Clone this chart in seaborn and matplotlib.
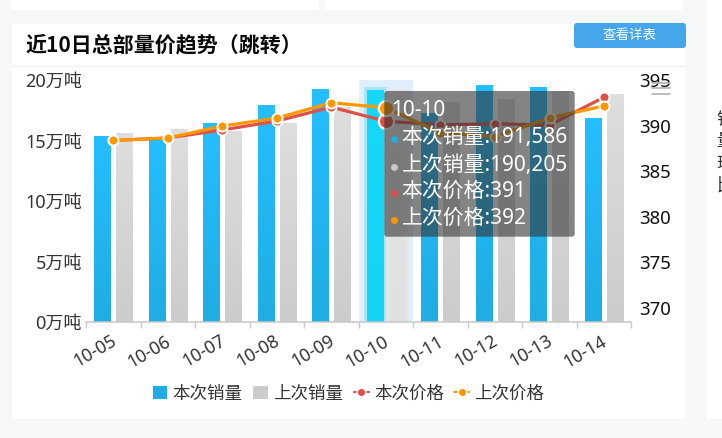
import numpy as np
import pandas as pd
import matplotlib
matplotlib.use('Agg')
import matplotlib.pyplot as plt
import seaborn as sns
from matplotlib.colors import to_rgb
from matplotlib.lines import Line2D
from matplotlib.patches import FancyBboxPatch, Patch, Rectangle
from matplotlib.transforms import Affine2D

# datos
fechas = ['10-05', '10-06', '10-07', '10-08', '10-09', '10-10', '10-11', '10-12', '10-13', '10-14']
ventas_actual = [15.29, 15.27, 16.39, 17.93, 19.20, 19.1586, 17.27, 19.53, 19.36, 16.83]
ventas_previo = [15.54, 15.89, 15.75, 16.39, 17.70, 19.0205, 18.18, 18.37, 19.03, 18.81]
precio_actual = [388.39, 388.66, 389.54, 390.52, 392.05, 390.50, 390.11, 390.22, 390.08, 393.14]
precio_previo = [388.39, 388.66, 389.97, 390.85, 392.54, 391.97, 389.24, 388.80, 390.85, 392.19]
ticks_ventas = [0, 5, 10, 15, 20]
ticks_precio = [370, 375, 380, 385, 390, 395]
nombres = ['本次销量', '上次销量', '本次价格', '上次价格']
tooltip_titulo = '10-10'
tooltip_textos = ['本次销量:191,586', '上次销量:190,205', '本次价格:391', '上次价格:392']
idx_activo = fechas.index(tooltip_titulo)

AZUL = '#1FADE3'
GRIS = '#CCCCCC'
ROJO = '#DF5048'
NARANJA = '#FF9800'

sns.set_theme(style='white')
# Noto Sans para los digitos, que son algo mas anchos
plt.rcParams['font.family'] = ['Noto Sans', 'Noto Sans CJK SC', 'DejaVu Sans']

fig = plt.figure(figsize=(7.22, 4.38), dpi=100, facecolor='#F6F7F9')
px = Affine2D().scale(1, -1).translate(0, 438)  # coordenadas en pixeles desde arriba


def caja(x0, y0, x1, y1, color, z=-5, radio=0, alpha=1):
    fig.add_artist(FancyBboxPatch((x0, y0), x1 - x0, y1 - y0, boxstyle=f'round,pad=0,rounding_size={radio}',
                                  fc=color, ec='none', alpha=alpha, transform=px, zorder=z))


# tarjetas del fondo
caja(11, -5, 319, 10, 'white')
caja(325, -5, 682, 10, 'white')
caja(12, 24, 685.3, 419, 'white')
caja(706, -5, 730, 419, 'white')
fig.add_artist(Line2D([12, 685], [65.5, 65.5], color='#F0F1F3', lw=1, transform=px, zorder=-4))

ax = fig.add_axes([86 / 722, (438 - 322.3) / 438, 545.3 / 722, 242 / 438])
ax.patch.set_visible(False)

# barras
df = pd.DataFrame({'fecha': fechas * 2,
                   'ventas': ventas_actual + ventas_previo,
                   'serie': [nombres[0]] * 10 + [nombres[1]] * 10})
sns.barplot(data=df, x='fecha', y='ventas', hue='serie', palette=[AZUL, GRIS], saturation=1,
            width=0.807, gap=0.272, legend=False, ax=ax)
ax.axvspan(idx_activo - 0.5, idx_activo + 0.5, color='#DFEFFC', lw=0, zorder=0.5)

# degradado vertical de cada barra
barras = [p for p in ax.patches if isinstance(p, Rectangle) and p.get_width() < 0.5]
for i, p in enumerate(barras):
    arriba, abajo = ('#25BEFF', AZUL) if i < 10 else ('#DEDEDE', GRIS)
    borde = 'none'
    if i % 10 == idx_activo:
        arriba, abajo = ('#14D8FB', '#14D4F5') if i < 10 else ('#E8E8E8', '#E0E0E0')
        borde = '#A8E6F6' if i < 10 else '#E6E6E6'
    x0, y0, w, h = p.get_x(), p.get_y(), p.get_width(), p.get_height()
    grad = np.linspace(to_rgb(arriba), to_rgb(abajo), 64)[:, None, :]
    ax.imshow(grad, extent=[x0, x0 + w, y0, y0 + h], aspect='auto', zorder=2, interpolation='bilinear')
    p.set_facecolor('none')
    p.set_edgecolor(borde)
    p.set_linewidth(5 if borde != 'none' else 0)
    p.set_zorder(1.5)

ax.set_xlim(-0.5, 9.5)
ax.set_ylim(0, 20)
ax.set_xlabel('')
ax.set_ylabel('')
ax.set_yticks(ticks_ventas)
ax.set_yticklabels([f'{t}万吨' for t in ticks_ventas], fontsize=13, color='#333333')
ax.tick_params(axis='y', length=0, pad=3)
ax.set_xticks(range(len(fechas)))
ax.set_xticklabels(fechas, rotation=30, ha='right', va='top', rotation_mode='anchor', fontsize=12.8, color='#333333')
ax.set_xticks(np.arange(-0.5, 10), minor=True)
ax.tick_params(axis='x', which='major', length=0, pad=7)
ax.tick_params(axis='x', which='minor', length=4, width=1, color='#C8C8C8', bottom=True)
for etiqueta in ax.get_xticklabels():
    etiqueta.set_transform(etiqueta.get_transform() + Affine2D().translate(-3, 0))
for lado in ['top', 'left', 'right']:
    ax.spines[lado].set_visible(False)
ax.spines['bottom'].set_color('#C8C8C8')
ax.spines['bottom'].set_linewidth(1.1)

# lineas de precio en el eje derecho
ax2 = ax.twinx()
ax2.patch.set_visible(False)
pos = np.arange(len(fechas))
for valores, color in [(precio_actual, ROJO), (precio_previo, NARANJA)]:
    sns.lineplot(x=pos, y=valores, color=color, lw=2.3, marker='o', markersize=7.2, markeredgecolor='white',
                 markeredgewidth=1.4, clip_on=False, ax=ax2, errorbar=None, sort=False)
    ax2.plot(pos[idx_activo], valores[idx_activo], 'o', color=color, ms=11, mec='white', mew=1.6, clip_on=False)
ax2.set_xlim(-0.5, 9.5)
ax2.set_ylim(368.4, 394.9)
ax2.set_ylabel('')
ax2.set_yticks(ticks_precio)
ax2.set_yticklabels([str(t) for t in ticks_precio], fontsize=13.4, color='#111111')
ax2.tick_params(axis='y', length=0, pad=6)
sns.despine(ax=ax2, left=True, right=True, top=True, bottom=True)

# leyenda
manejadores = [Patch(fc=AZUL, ec='none'), Patch(fc=GRIS, ec='none'),
               Line2D([], [], color=ROJO, lw=1.5, marker='o', ms=6.2, mec='white', mew=1.1),
               Line2D([], [], color=NARANJA, lw=1.5, marker='o', ms=6.2, mec='white', mew=1.1)]
fig.legend(manejadores, nombres, ncol=4, loc='center', bbox_to_anchor=(348.5 / 722, 1 - 393.5 / 438), frameon=False,
           fontsize=12.6, labelcolor='#333333', handlelength=0.85, handleheight=0.8, handletextpad=0.3,
           columnspacing=0.6, borderpad=0, borderaxespad=0)

# textos de la cabecera
fig.text(25, 45, '近10日总部量价趋势（跳转）', transform=px, fontsize=15.1, fontweight='bold', color='#0A0A0A', va='center',
         family='Noto Sans CJK SC')
caja(574, 23, 686, 48, '#46A6EA', z=-3, radio=3)
fig.text(630, 35.5, '查看详表', transform=px, fontsize=9.7, color='white', ha='center', va='center', fontweight='medium')

# texto cortado de la tarjeta derecha
for letra, y in zip('销量环比', [120, 141, 164, 186]):
    fig.text(716.5, y, letra, transform=px, fontsize=12.6, color='#333333', va='center')

# icono de la esquina
for y in [82.5, 87.5, 94]:
    fig.add_artist(Line2D([652, 669.5], [y, y], color='#B8B8B8', lw=1.3, transform=px, zorder=6))

# tooltip
caja(384.3, 91, 574.7, 236.7, '#323232', z=8, radio=3, alpha=0.6)
fig.text(391, 110, tooltip_titulo, transform=px, fontsize=15, color='white', va='center', zorder=9)
for texto, y, color in zip(tooltip_textos, [137, 165, 191, 218], ['#1FADE3', '#C8C8C8', ROJO, NARANJA]):
    fig.add_artist(Line2D([393.5], [y + 2], marker='o', ms=5, color=color, mec='none', transform=px, zorder=9))
    fig.text(401.5, y, texto, transform=px, fontsize=15, color='white', va='center', zorder=9)

fig.savefig('out.png', dpi=100)
